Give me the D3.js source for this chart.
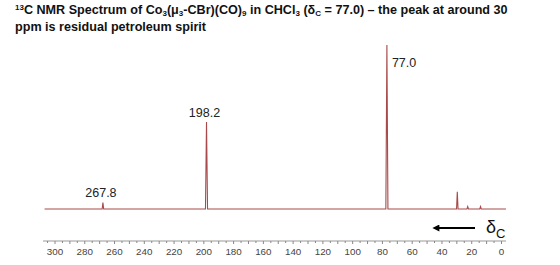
<!DOCTYPE html>
<meta charset='utf-8'>
<style>
body { margin: 0; background: #fff; }
svg { font-family: 'Liberation Sans', Arial, sans-serif; }
.title { font-size: 12.6px; font-weight: bold; fill: #111; }
.axis text { font-size: 9.8px; fill: #444; }
.peaklabel { font-size: 12.5px; fill: #222; }
</style>
<svg width='560' height='265'></svg>
<script src='https://d3js.org/d3.v7.min.js'></script>
<script>

// peak positions (ppm) and relative heights (tallest = 100)
var peakPpm    = [267.8, 198.2, 77.0, 29.7, 22.7, 14.1];
var peakHeight = [4, 53, 100, 10.5, 1.5, 1.5];
var labelled   = ['267.8', '198.2', '77.0', null, null, null];
var tickValues = [300, 280, 260, 240, 220, 200, 180, 160, 140, 120, 100, 80, 60, 40, 20, 0];
var spectrumRange = [307, -3];

var svg = d3.select('svg');

var x = d3.scaleLinear().domain([300, 0]).range([55, 501.5]);
var y = d3.scaleLinear().domain([0, 100]).range([209, 45]);

// title, with sub/superscripts
var t1 = svg.append('text').attr('class', 'title').attr('x', 15).attr('y', 14);
function part(txt, kind) {
  var s = t1.append('tspan').text(txt);
  if (kind == 'sup') s.attr('font-size', 8).attr('dy', -4);
  if (kind == 'sub') s.attr('font-size', 8).attr('dy', 2);
  if (kind == 'back') s.attr('dy', 4);
  if (kind == 'up') s.attr('dy', -2);
  return s;
}
part('13', 'sup');
part('C NMR Spectrum of Co', 'back');
part('3', 'sub');
part('(\u03bc', 'up');
part('3', 'sub');
part('-CBr)(CO)', 'up');
part('9', 'sub');
part(' in CHCl', 'up');
part('3', 'sub');
part(' (\u03b4', 'up');
part('C', 'sub');
part(' = 77.0) \u2013 the peak at around 30', 'up');

svg.append('text').attr('class', 'title').attr('x', 15).attr('y', 31)
  .text('ppm is residual petroleum spirit');

// spectrum trace: baseline with narrow peaks
var pts = [[spectrumRange[0], 0]];
peakPpm.forEach(function(p, i) {
  var w = peakHeight[i] > 20 ? 0.7 : 0.5;
  pts.push([p + w, 0], [p, peakHeight[i]], [p - w, 0]);
});
pts.push([spectrumRange[1], 0]);

svg.append('path')
  .datum(pts)
  .attr('fill', 'none')
  .attr('stroke', '#a84a4a')
  .attr('stroke-width', 1.1)
  .attr('d', d3.line().x(function(d) { return x(d[0]); }).y(function(d) { return y(d[1]); }));

// peak labels
peakPpm.forEach(function(p, i) {
  if (!labelled[i]) return;
  var lbl = svg.append('text').attr('class', 'peaklabel').text(labelled[i]);
  if (p == 77.0) {
    lbl.attr('x', x(p) + 5).attr('y', y(peakHeight[i]) + 22);
  } else {
    lbl.attr('x', x(p) - 2).attr('y', y(peakHeight[i]) - 5).attr('text-anchor', 'middle');
  }
});

// axis
var ax = svg.append('g').attr('class', 'axis')
  .attr('transform', 'translate(0,241)');
ax.append('line').attr('x1', 43).attr('x2', 506).attr('stroke', '#999');
ax.selectAll('.minor')
  .data(d3.range(305, -1, -5))
  .enter().append('line')
    .attr('x1', function(d) { return x(d); })
    .attr('x2', function(d) { return x(d); })
    .attr('y1', 0)
    .attr('y2', function(d) { return d % 10 == 0 ? 3 : 2; })
    .attr('stroke', '#888');
ax.selectAll('.lbl')
  .data(tickValues)
  .enter().append('text')
    .attr('x', function(d) { return x(d); })
    .attr('y', 14)
    .attr('text-anchor', 'middle')
    .text(function(d) { return d; });

// direction arrow and delta label
svg.append('defs').append('marker')
  .attr('id', 'head')
  .attr('viewBox', '0 0 10 10')
  .attr('refX', 2).attr('refY', 5)
  .attr('markerWidth', 4).attr('markerHeight', 3.5)
  .attr('orient', 'auto')
  .append('path').attr('d', 'M0,0 L10,5 L0,10 z').attr('fill', '#000');

svg.append('line')
  .attr('x1', 475).attr('x2', 438)
  .attr('y1', 228).attr('y2', 228)
  .attr('stroke', '#000').attr('stroke-width', 2)
  .attr('marker-end', 'url(#head)');

var dl = svg.append('text').attr('x', 486).attr('y', 233).attr('fill', '#111');
dl.append('tspan').attr('font-size', 18).text('\u03b4');
dl.append('tspan').attr('font-size', 13).attr('dy', 5).text('C');

</script>
